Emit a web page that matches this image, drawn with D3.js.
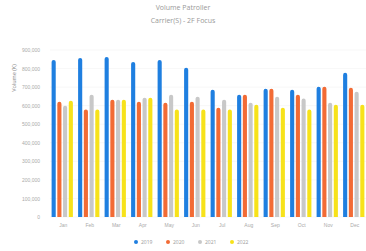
<!DOCTYPE html>
<html lang="en">
  <head>
    <meta charset="utf-8">
    <title>Volume Patroller</title>
    <script src="https://cdn.jsdelivr.net/npm/d3@7"></script>
    <style>
      body { margin: 0; background: #fff; font-family: "Open Sans", sans-serif; }
      #chart { width: 366px; height: 251px; overflow: hidden; }
      .tick text { fill: #aaa; font-size: 5px; }
      .legend { font-size: 5px; fill: #999; }
    </style>
  </head>
  <body>
    <div id="chart"></div>
    <script>
    // data (thousands)
    const months = ["Jan", "Feb", "Mar", "Apr", "May", "Jun", "Jul", "Aug", "Sep", "Oct", "Nov", "Dec"];
    const seriesNames = ["2019", "2020", "2021", "2022"];
    const s2019 = [846, 857, 862, 836, 846, 804, 686, 659, 691, 686, 702, 777];
    const s2020 = [621, 579, 632, 621, 616, 621, 589, 659, 691, 659, 702, 696];
    const s2021 = [600, 659, 632, 643, 659, 648, 632, 616, 648, 638, 616, 675];
    const s2022 = [627, 579, 632, 643, 579, 579, 579, 605, 589, 579, 605, 605];
    const yTicks = [0, 100, 200, 300, 400, 500, 600, 700, 800, 900];
    const colors = ["#1f7fe0", "#f26b35", "#c8c8c8", "#f7e21a"];

    const allSeries = [s2019, s2020, s2021, s2022];
    const w = 366, h = 251;
    const margin = {top: 50, left: 50, bottom: 34};
    const plotRight = 368;

    const svg = d3.select("#chart").append("svg")
      .attr("width", w)
      .attr("height", h);

    const x = d3.scaleBand()
      .domain(months)
      .range([margin.left, plotRight])
      .paddingInner(0)
      .paddingOuter(0);

    const x1 = d3.scaleBand()
      .domain(seriesNames)
      .range([0, x.bandwidth() - 2])
      .padding(0.28);

    const y = d3.scaleLinear()
      .domain([0, 900])
      .range([h - margin.bottom, margin.top]);

    // gridlines
    svg.append("g")
      .selectAll("line")
      .data(yTicks)
      .enter()
      .append("line")
      .attr("x1", margin.left)
      .attr("x2", plotRight)
      .attr("y1", d => y(d))
      .attr("y2", d => y(d))
      .attr("stroke", "#f2f2f2")
      .attr("stroke-width", 0.6);

    const yAxis = d3.axisLeft(y)
      .tickValues(yTicks)
      .tickSize(0)
      .tickPadding(10)
      .tickFormat(d => d3.format(",")(d * 1000));
    svg.append("g")
      .attr("transform", "translate(" + margin.left + ",0)")
      .call(yAxis)
      .call(g => g.select(".domain").remove());

    const xAxis = d3.axisBottom(x).tickSize(0).tickPadding(6);
    svg.append("g")
      .attr("transform", "translate(0," + (h - margin.bottom) + ")")
      .call(xAxis)
      .call(g => g.select(".domain").remove());

    // bars, with rounded tops
    const groups = svg.append("g")
      .selectAll("g")
      .data(months)
      .enter()
      .append("g")
      .attr("transform", d => "translate(" + x(d) + ",0)");

    groups.selectAll("path")
      .data((m, i) => allSeries.map((s, k) => ({name: seriesNames[k], value: s[i], k: k})))
      .enter()
      .append("path")
      .attr("fill", d => colors[d.k])
      .attr("d", d => {
        const bw = x1.bandwidth();
        const x0 = x1(d.name);
        const top = y(d.value);
        const base = y(0);
        const r = bw / 2;
        return "M" + x0 + "," + base +
          "V" + (top + r) +
          "A" + r + "," + r + " 0 0 1 " + (x0 + bw) + "," + (top + r) +
          "V" + base + "Z";
      });

    // titles
    svg.append("text")
      .attr("x", 183)
      .attr("y", 10)
      .attr("text-anchor", "middle")
      .style("font-size", "7px")
      .style("fill", "#999")
      .text("Volume Patroller");

    svg.append("text")
      .attr("x", 183)
      .attr("y", 23)
      .attr("text-anchor", "middle")
      .style("font-size", "7px")
      .style("fill", "#999")
      .text("Carrier(S) - 2F Focus");

    svg.append("text")
      .attr("transform", "rotate(-90)")
      .attr("x", -78)
      .attr("y", 16)
      .attr("text-anchor", "middle")
      .style("font-size", "5.5px")
      .style("fill", "#888")
      .text("Volume (K)");

    // legend
    const legend = svg.append("g")
      .selectAll("g")
      .data(seriesNames)
      .enter()
      .append("g")
      .attr("transform", (d, i) => "translate(" + (136 + i * 32) + ",242)");
    legend.append("circle")
      .attr("r", 2)
      .attr("fill", (d, i) => colors[i]);
    legend.append("text")
      .attr("class", "legend")
      .attr("x", 5)
      .attr("y", 2)
      .text(d => d);
    </script>
  </body>
</html>
